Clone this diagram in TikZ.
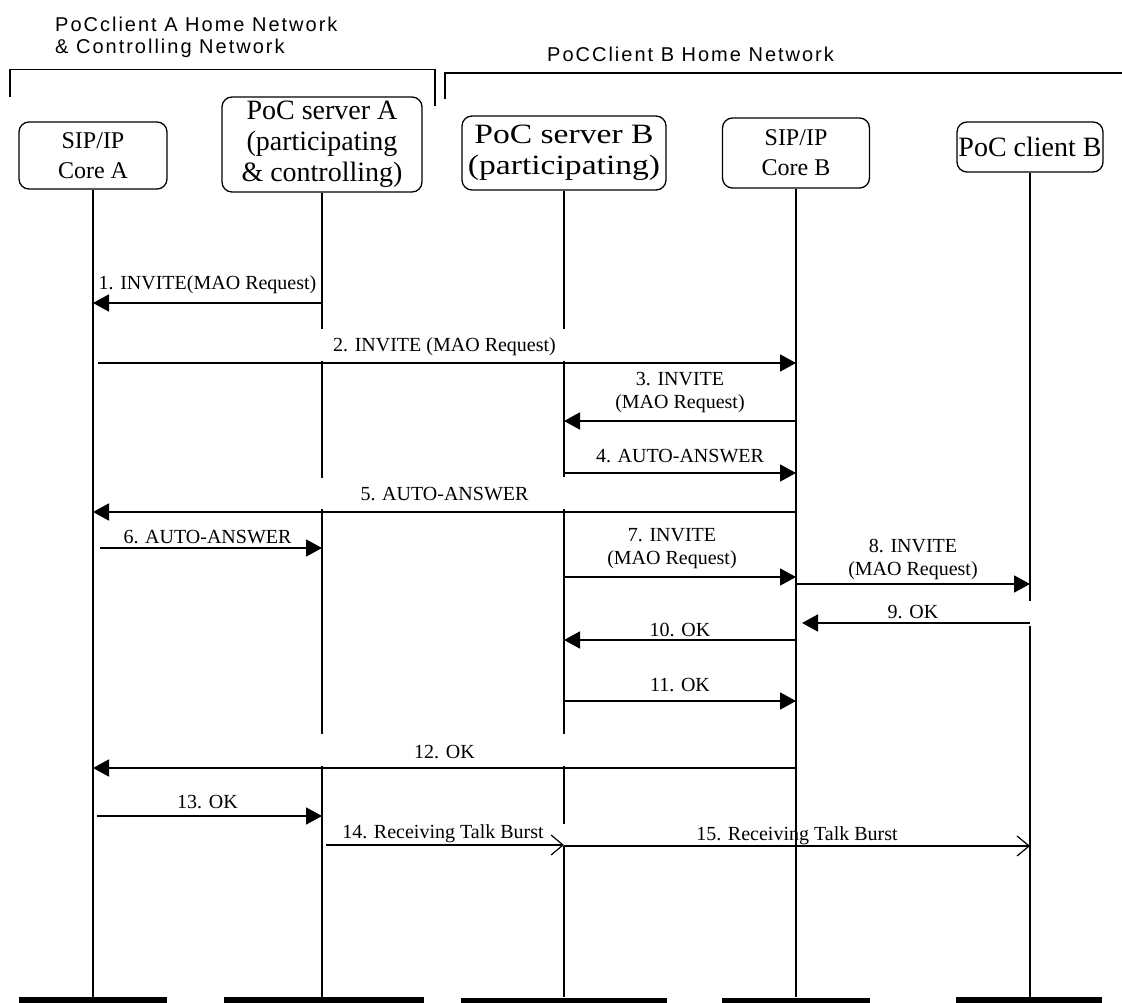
\documentclass[tikz,border=0pt]{standalone}
\usepackage{fontspec}
\setmainfont{Liberation Serif}
\newfontfamily\hdrfont[LetterSpace=10]{Liberation Sans}
\usepackage{tikz}
\usetikzlibrary{shapes}
\usetikzlibrary{arrows.meta}

\begin{document}
\begin{tikzpicture}[x=1pt,y=-1pt]
			\tikzstyle{entity}=[draw,rounded corners=10pt,line width=1.3pt,inner sep=0pt,align=center]
			\tikzstyle{bar}=[fill=black,inner sep=0pt,minimum height=6pt]
			\tikzstyle{life}=[line width=1.3pt]
			\tikzstyle{msg}=[line width=1.8pt,-{Triangle[length=16pt,width=17pt]}]
			\tikzstyle{burst}=[line width=1.3pt,-{Straight Barb[length=12pt,width=20pt,line width=1.2pt]}]
			\tikzstyle{lbl}=[font=\fontsize{20}{23}\selectfont,inner sep=0pt,midway,align=center]
			\tikzstyle{hdr}=[font=\hdrfont\fontsize{20}{22}\selectfont,inner sep=0pt,align=left]

			\useasboundingbox (0,0) rectangle (1122,1003);

			% network headers
			\node[hdr,anchor=north west] (netA) at (55,17) {PoCclient A Home Network\\\& Controlling Network};
			\node[hdr,anchor=base west] (netB) at (547,62) {PoCClient B Home Network};
			\draw[line width=1.5pt] (10,97) -- (10,69.5) -- (435,69.5) -- (435,106);
			\draw[line width=1.5pt] (445,99) -- (445,73) -- (1122,73);

			% entities
			\node[entity,font=\fontsize{24}{30}\selectfont,minimum width=148pt,minimum height=67pt] (coreA) at (93,155.5) {SIP/IP\\Core A};
			\node[entity,font=\fontsize{28}{31}\selectfont,minimum width=200pt,minimum height=95pt] (srvA) at (322,144.5) {PoC server A\\(participating\\\& controlling)};
			\node[entity,font=\fontsize{28}{31}\selectfont,minimum width=204pt,minimum height=74pt] (srvB) at (564,153) {\scalebox{1.2}[1]{PoC server B}\\\scalebox{1.2}[1]{(participating)}};
			\node[entity,font=\fontsize{24}{30}\selectfont,minimum width=147pt,minimum height=70pt] (coreB) at (796,153) {SIP/IP\\Core B};
			\node[entity,font=\fontsize{28}{31}\selectfont,minimum width=146pt,minimum height=50pt] (cliB) at (1030,147) {PoC client B};

			% end bars
			\node[bar,minimum width=148pt] (endCoreA) at (93,1000) {};
			\node[bar,minimum width=200pt] (endSrvA) at (324,1000) {};
			\node[bar,minimum width=206pt] (endSrvB) at (564,1000.5) {};
			\node[bar,minimum width=148pt] (endCoreB) at (796,1000.5) {};
			\node[bar,minimum width=146pt] (endCliB) at (1029,1000) {};

			% lifelines
			\draw[life] (coreA.south) -- (coreA |- endCoreA.north);
			\draw[life,dash pattern=on 136pt off 32pt on 117pt off 31pt on 225pt off 32pt on 400pt] (srvA.south) -- (srvA |- endSrvA.north);
			\draw[life,dash pattern=on 138pt off 32pt on 116pt off 32pt on 225pt off 32pt on 58pt off 22pt on 300pt] (srvB.south) -- (srvB |- endSrvB.north);
			\draw[life] (coreB.south) -- (coreB |- endCoreB.north);
			\draw[life,dash pattern=on 428pt off 25pt on 400pt] (cliB.south) -- (cliB |- endCliB.north);

			% message rows
			\coordinate (m1) at (0,303);
			\coordinate (m2) at (0,363);
			\coordinate (m3) at (0,421);
			\coordinate (m4) at (0,473);
			\coordinate (m5) at (0,512);
			\coordinate (m6) at (0,548);
			\coordinate (m7) at (0,577);
			\coordinate (m8) at (0,584);
			\coordinate (m9) at (0,623);
			\coordinate (m10) at (0,640);
			\coordinate (m11) at (0,701);
			\coordinate (m12) at (0,768);
			\coordinate (m13) at (0,816);
			\coordinate (m14) at (0,845);
			\coordinate (m15) at (0,846);

			\draw[msg] (srvA |- m1) -- (coreA |- m1) node[lbl,above=8pt] {1. INVITE(MAO Request)};
			\draw[msg,shorten <=5pt] (coreA |- m2) -- (coreB |- m2) node[lbl,above=6pt] {2. INVITE (MAO Request)};
			\draw[msg] (coreB |- m3) -- (srvB |- m3) node[lbl,above=7pt] {3. INVITE\\(MAO Request)};
			\draw[msg] (srvB |- m4) -- (coreB |- m4) node[lbl,above=9pt] {4. AUTO-ANSWER};
			\draw[msg] (coreB |- m5) -- (coreA |- m5) node[lbl,above=10pt] {5. AUTO-ANSWER};
			\draw[msg,shorten <=7pt] (coreA |- m6) -- (srvA |- m6) node[lbl,above=3pt] {6. AUTO-ANSWER};
			\draw[msg] (srvB |- m7) -- (coreB |- m7) node[lbl,above=7pt,xshift=-8pt] {7. INVITE\\(MAO Request)};
			\draw[msg] (coreB |- m8) -- (cliB |- m8) node[lbl,above=3pt] {8. INVITE\\(MAO Request)};
			\draw[msg,shorten >=6pt] (cliB |- m9) -- (coreB |- m9) node[lbl,above=3pt] {9. OK};
			\draw[msg] (coreB |- m10) -- (srvB |- m10) node[lbl,above=2pt] {10. OK};
			\draw[msg] (srvB |- m11) -- (coreB |- m11) node[lbl,above=8pt] {11. OK};
			\draw[msg] (coreB |- m12) -- (coreA |- m12) node[lbl,above=8pt] {12. OK};
			\draw[msg,shorten <=4pt] (coreA |- m13) -- (srvA |- m13) node[lbl,above=6pt] {13. OK};
			\draw[burst,line width=1.8pt,shorten <=4pt] (srvA |- m14) -- (srvB |- m14) node[lbl,above=1pt] {14. Receiving Talk Burst};
			\draw[burst] (srvB |- m15) -- (cliB |- m15) node[lbl,above=1pt] {15. Receiving Talk Burst};
\end{tikzpicture}
\end{document}
